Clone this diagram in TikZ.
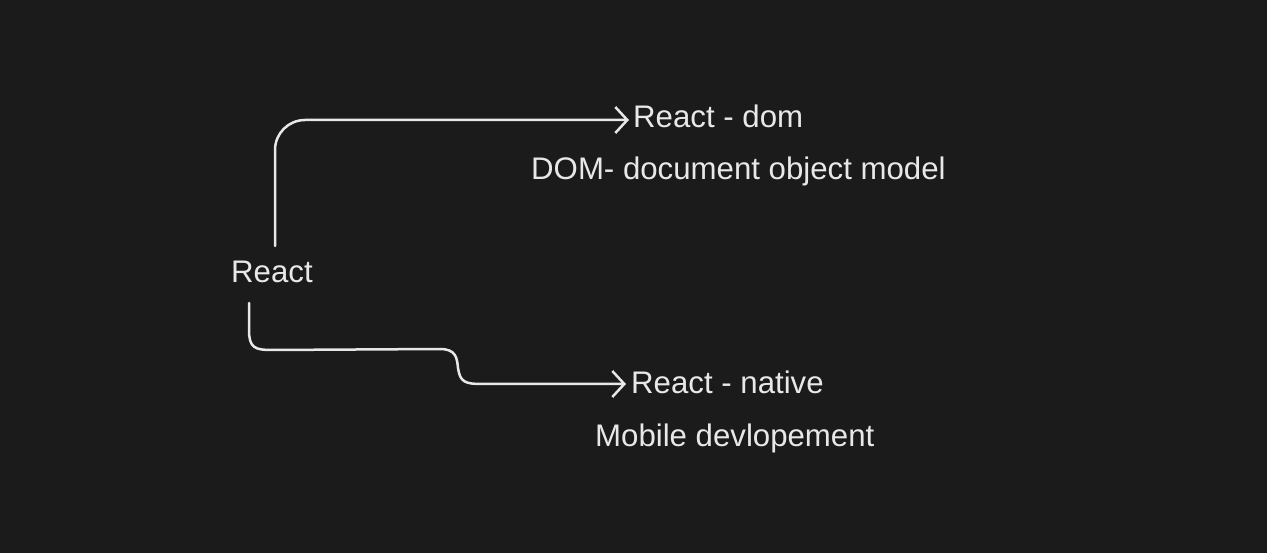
\documentclass[tikz,border=0pt]{standalone}
\usepackage{fontspec}
\setmainfont{Liberation Sans}
\usetikzlibrary{arrows.meta}
\definecolor{bg}{HTML}{1B1B1B}
\definecolor{fg}{HTML}{E8E8E8}
\begin{document}
\begin{tikzpicture}[x=1pt,y=-1pt,
  lbl/.style={anchor=base west,inner sep=0pt,text=fg,font=\fontsize{31.2}{37}\selectfont},
  conn/.style={draw=fg,line width=2.5pt,line cap=round,line join=round,
    -{Straight Barb[length=12pt,width=26pt,line width=2.5pt]}}]
\fill[bg] (0,0) rectangle (1267,553);
\useasboundingbox (0,0) rectangle (1267,553);
\node[lbl] (react) at (231,283) {React};
\node[lbl] (dom) at (633,128) {React - dom};
\node[lbl] (domtxt) at (531,180) {DOM- document object model};
\node[lbl] (native) at (631,394) {React - native};
\node[lbl] (mobile) at (595,446) {Mobile devlopement};
\coordinate (s1) at (275,246);
\coordinate (s2) at (249,303);
\draw[conn,rounded corners=30pt] (s1) -- (275,120) -- (dom.west |- 0,120) -- ([xshift=-4pt]dom.west |- 0,120);
\draw[conn] (s2) -- (249,330) .. controls (249,348) and (255,350) .. (272,350) -- (440,349)
  .. controls (456,349) and (457,358) .. (458,368) .. controls (460,382) and (465,384) .. (482,384)
  -- ([xshift=-5pt]native.west |- 0,384);
\end{tikzpicture}
\end{document}
